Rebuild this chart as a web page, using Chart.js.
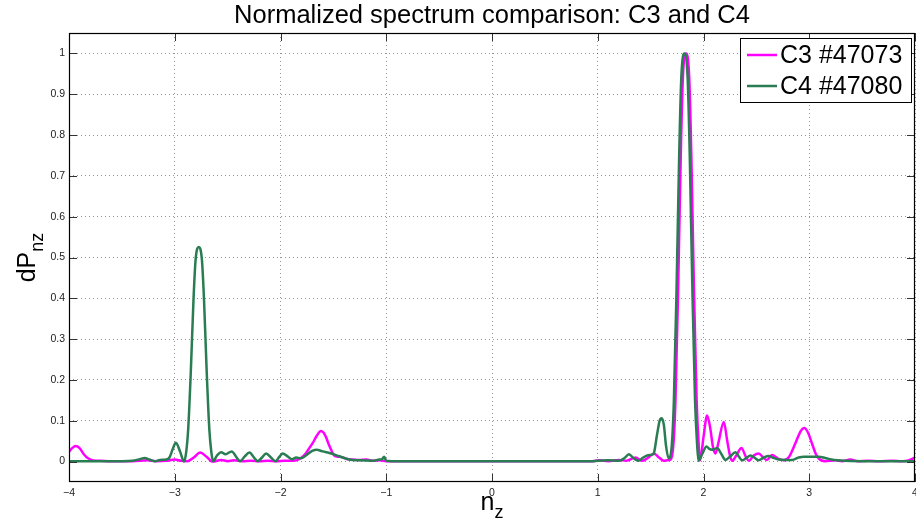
<!DOCTYPE html>
<html>
<head>
<meta charset="utf-8">
<script src="https://cdn.jsdelivr.net/npm/chart.js@4.4.1/dist/chart.umd.min.js"></script>
<style>
  html, body { margin: 0; padding: 0; background: #fff; }
  #wrap { width: 916px; height: 530px; }
</style>
</head>
<body>
<div id="wrap"><canvas id="myChart" width="916" height="530"></canvas></div>
<script>
const FONT = "'Liberation Sans', Arial, Helvetica, sans-serif";

// axis ticks
const xTicks = [-4, -3, -2, -1, 0, 1, 2, 3, 4];
const yTicks = [0, 0.1, 0.2, 0.3, 0.4, 0.5, 0.6, 0.7, 0.8, 0.9, 1];

// C3 #47073
const c3Nz = [
  -4.00, -3.97, -3.937, -3.90, -3.86, -3.82, -3.77, -3.70, -3.60, -3.50, -3.40, -3.26, -3.18, -3.08,
  -3.00, -2.94, -2.88, -2.82, -2.76, -2.70, -2.64, -2.56, -2.50, -2.44, -2.36, -2.28, -2.20, -2.12,
  -2.04, -1.96, -1.88, -1.84, -1.80, -1.758, -1.72, -1.696, -1.66, -1.617, -1.59, -1.57, -1.545, -1.52,
  -1.49, -1.46, -1.42, -1.38, -1.33, -1.26, -1.19, -1.12, -1.06, -1.00, -0.50, 0.00, 0.50, 0.95,
  1.01, 1.10, 1.20, 1.27, 1.358, 1.42, 1.48, 1.531, 1.58, 1.625, 1.66, 1.69, 1.715, 1.735,
  1.76, 1.785, 1.805, 1.835, 1.865, 1.885, 1.91, 1.935, 1.955, 1.968, 2.00, 2.034, 2.065, 2.09,
  2.113, 2.14, 2.192, 2.225, 2.25, 2.27, 2.31, 2.359, 2.40, 2.428, 2.475, 2.522, 2.565, 2.60,
  2.648, 2.70, 2.758, 2.81, 2.869, 2.92, 2.954, 2.99, 3.025, 3.06, 3.088, 3.15, 3.246, 3.31,
  3.388, 3.46, 3.56, 3.66, 3.78, 3.88, 3.94, 4.00
];
const c3Dp = [
  0.024, 0.033, 0.038, 0.033, 0.018, 0.008, 0.003, 0.002, 0.001, 0.001, 0.001, 0.003, 0.001, 0.002,
  0.005, 0.002, 0.001, 0.010, 0.022, 0.012, 0.000, 0.004, 0.001, 0.003, 0.001, 0.002, 0.001, 0.002,
  0.001, 0.002, 0.002, 0.004, 0.010, 0.021, 0.036, 0.045, 0.062, 0.075, 0.070, 0.060, 0.043, 0.028,
  0.014, 0.012, 0.011, 0.007, 0.005, 0.004, 0.005, 0.002, 0.003, 0.001, 0.001, 0.001, 0.001, 0.001,
  0.003, 0.001, 0.004, 0.002, 0.010, 0.002, 0.010, 0.020, 0.010, 0.002, 0.003, 0.005, 0.040, 0.150,
  0.420, 0.750, 0.940, 1.000, 0.940, 0.750, 0.420, 0.150, 0.040, 0.003, 0.060, 0.113, 0.080, 0.035,
  0.020, 0.045, 0.097, 0.050, 0.015, 0.002, 0.015, 0.033, 0.012, 0.002, 0.015, 0.020, 0.010, 0.004,
  0.016, 0.008, 0.003, 0.012, 0.045, 0.075, 0.082, 0.070, 0.045, 0.020, 0.008, 0.001, 0.003, 0.001,
  0.005, 0.001, 0.002, 0.001, 0.002, 0.001, 0.003, 0.010
];

// C4 #47080
const c4Nz = [
  -4.00, -3.50, -3.40, -3.33, -3.285, -3.24, -3.19, -3.14, -3.08, -3.05, -3.02, -2.99, -2.95, -2.912,
  -2.893, -2.873, -2.848, -2.823, -2.803, -2.773, -2.743, -2.723, -2.698, -2.673, -2.653, -2.638, -2.60, -2.561,
  -2.52, -2.461, -2.42, -2.382, -2.34, -2.294, -2.25, -2.215, -2.175, -2.136, -2.09, -2.048, -2.01, -1.979,
  -1.93, -1.89, -1.853, -1.806, -1.76, -1.70, -1.658, -1.60, -1.538, -1.444, -1.35, -1.255, -1.13, -1.066,
  -1.04, -1.02, -1.00, -0.95, 0.00, 0.95, 1.00, 1.10, 1.20, 1.25, 1.295, 1.34, 1.385, 1.43,
  1.468, 1.515, 1.53, 1.56, 1.585, 1.605, 1.625, 1.645, 1.67, 1.70, 1.72, 1.745, 1.77, 1.79,
  1.82, 1.85, 1.87, 1.895, 1.92, 1.94, 1.952, 1.99, 2.028, 2.055, 2.081, 2.105, 2.129, 2.17,
  2.208, 2.25, 2.302, 2.335, 2.365, 2.405, 2.444, 2.485, 2.522, 2.57, 2.617, 2.66, 2.711, 2.78,
  2.837, 2.90, 2.95, 3.00, 3.09, 3.15, 3.21, 3.34, 3.60, 4.00
];
const c4Dp = [
  0.001, 0.001, 0.002, 0.006, 0.009, 0.005, 0.001, 0.004, 0.005, 0.010, 0.030, 0.046, 0.025, 0.000,
  0.021, 0.079, 0.221, 0.395, 0.494, 0.526, 0.494, 0.395, 0.221, 0.079, 0.021, 0.001, 0.015, 0.023,
  0.018, 0.025, 0.012, 0.001, 0.012, 0.022, 0.010, 0.001, 0.010, 0.020, 0.010, 0.001, 0.012, 0.020,
  0.012, 0.006, 0.010, 0.008, 0.015, 0.026, 0.029, 0.025, 0.021, 0.013, 0.005, 0.003, 0.002, 0.005,
  0.006, 0.012, 0.002, 0.001, 0.001, 0.001, 0.002, 0.003, 0.002, 0.008, 0.018, 0.008, 0.002, 0.010,
  0.015, 0.017, 0.020, 0.065, 0.100, 0.106, 0.090, 0.040, 0.008, 0.040, 0.150, 0.420, 0.750, 0.940,
  1.000, 0.940, 0.750, 0.420, 0.150, 0.040, 0.002, 0.020, 0.037, 0.031, 0.029, 0.031, 0.033, 0.018,
  0.004, 0.012, 0.023, 0.012, 0.003, 0.009, 0.015, 0.009, 0.003, 0.010, 0.014, 0.009, 0.005, 0.004,
  0.004, 0.010, 0.012, 0.012, 0.012, 0.009, 0.005, 0.002, 0.001, 0.001
];

const seriesNames = ['C3 #47073', 'C4 #47080'];
const seriesColors = ['#ff00ff', '#2a7d52'];

function toPoints(xs, ys) {
  return xs.map((x, i) => ({ x: x, y: ys[i] }));
}

// box, inward ticks, legend, title and axis labels in the MATLAB look
const axesDecor = {
  id: 'axesDecor',
  afterDraw(chart) {
    const { ctx, chartArea: a, scales: { x, y } } = chart;
    ctx.save();

    ctx.strokeStyle = '#333';
    ctx.lineWidth = 1;
    ctx.beginPath();
    xTicks.forEach(v => {
      const px = Math.round(x.getPixelForValue(v)) + 0.5;
      ctx.moveTo(px, a.bottom); ctx.lineTo(px, a.bottom - 8);
      ctx.moveTo(px, a.top); ctx.lineTo(px, a.top + 8);
    });
    yTicks.forEach(v => {
      const py = Math.round(y.getPixelForValue(v)) + 0.5;
      ctx.moveTo(a.left, py); ctx.lineTo(a.left + 8, py);
      ctx.moveTo(a.right, py); ctx.lineTo(a.right - 8, py);
    });
    ctx.stroke();

    ctx.strokeStyle = '#000';
    ctx.lineWidth = 1.2;
    ctx.strokeRect(a.left + 0.5, a.top + 0.5, a.right - a.left - 1, a.bottom - a.top - 1);

    // legend
    const lx = 740, ly = 38, lw = 171, lh = 64;
    ctx.fillStyle = '#fff';
    ctx.fillRect(lx, ly, lw, lh);
    ctx.strokeStyle = '#000';
    ctx.lineWidth = 1;
    ctx.strokeRect(lx + 0.5, ly + 0.5, lw, lh);
    ctx.font = '25px ' + FONT;
    ctx.textBaseline = 'middle';
    ctx.textAlign = 'left';
    seriesNames.forEach((name, i) => {
      const ry = 55 + i * 31;
      ctx.strokeStyle = seriesColors[i];
      ctx.lineWidth = 2.5;
      ctx.beginPath();
      ctx.moveTo(747, ry); ctx.lineTo(777, ry);
      ctx.stroke();
      ctx.fillStyle = '#000';
      ctx.fillText(name, 780, ry + 1);
    });

    // title
    ctx.fillStyle = '#000';
    ctx.textAlign = 'center';
    ctx.textBaseline = 'alphabetic';
    ctx.font = '25.5px ' + FONT;
    ctx.fillText('Normalized spectrum comparison: C3 and C4', (a.left + a.right) / 2, 23);

    // x label: n with subscript z
    ctx.textAlign = 'left';
    ctx.font = '25px ' + FONT;
    const nW = ctx.measureText('n').width;
    ctx.font = '18px ' + FONT;
    const zW = ctx.measureText('z').width;
    const xs = (a.left + a.right) / 2 - (nW + zW) / 2;
    ctx.font = '25px ' + FONT;
    ctx.fillText('n', xs, 510);
    ctx.font = '18px ' + FONT;
    ctx.fillText('z', xs + nW, 518);

    // y label: dP with subscript nz
    ctx.translate(35, (a.top + a.bottom) / 2);
    ctx.rotate(-Math.PI / 2);
    ctx.font = '25px ' + FONT;
    const dW = ctx.measureText('dP').width;
    ctx.font = '18px ' + FONT;
    const sW = ctx.measureText('nz').width;
    const ys = -(dW + sW) / 2;
    ctx.font = '25px ' + FONT;
    ctx.fillText('dP', ys, 0);
    ctx.font = '18px ' + FONT;
    ctx.fillText('nz', ys + dW, 8);

    ctx.restore();
  }
};

const ctx = document.getElementById('myChart').getContext('2d');
const chart = new Chart(ctx, {
  type: 'line',
  data: {
    datasets: [{
      label: seriesNames[0],
      data: toPoints(c3Nz, c3Dp),
      borderColor: seriesColors[0],
      borderWidth: 2.5,
      pointRadius: 0,
      cubicInterpolationMode: 'monotone',
      fill: false,
      order: 2
    }, {
      label: seriesNames[1],
      data: toPoints(c4Nz, c4Dp),
      borderColor: seriesColors[1],
      borderWidth: 2.5,
      pointRadius: 0,
      cubicInterpolationMode: 'monotone',
      fill: false,
      order: 1
    }]
  },
  options: {
    responsive: false,
    animation: false,
    devicePixelRatio: 1,
    layout: { padding: { left: 0, right: 1, top: 33, bottom: 0 } },
    plugins: {
      legend: { display: false },
      title: { display: false },
      tooltip: { enabled: false }
    },
    scales: {
      x: {
        type: 'linear',
        min: -4,
        max: 4,
        afterBuildTicks: scale => { scale.ticks = xTicks.map(v => ({ value: v })); },
        afterFit: scale => {
          scale.height = 48;
          scale.paddingLeft = 0;
          scale.paddingRight = 0;
        },
        grid: { color: 'rgba(0,0,0,0.42)', drawTicks: false },
        border: { display: false, dash: [1, 3] },
        ticks: {
          padding: 5,
          maxRotation: 0,
          color: '#222',
          font: { family: FONT, size: 10.5 },
          callback: v => (v < 0 ? '\u2212' + (-v) : String(v))
        }
      },
      y: {
        type: 'linear',
        min: -0.05,
        max: 1.05,
        afterBuildTicks: scale => { scale.ticks = yTicks.map(v => ({ value: v })); },
        afterFit: scale => {
          scale.width = 69;
          scale.paddingTop = 0;
          scale.paddingBottom = 0;
        },
        grid: { color: 'rgba(0,0,0,0.42)', drawTicks: false },
        border: { display: false, dash: [1, 3] },
        ticks: {
          padding: 4,
          color: '#222',
          font: { family: FONT, size: 10.5 },
          callback: v => String(Math.round(v * 10) / 10)
        }
      }
    }
  },
  plugins: [axesDecor]
});
</script>
</body>
</html>
